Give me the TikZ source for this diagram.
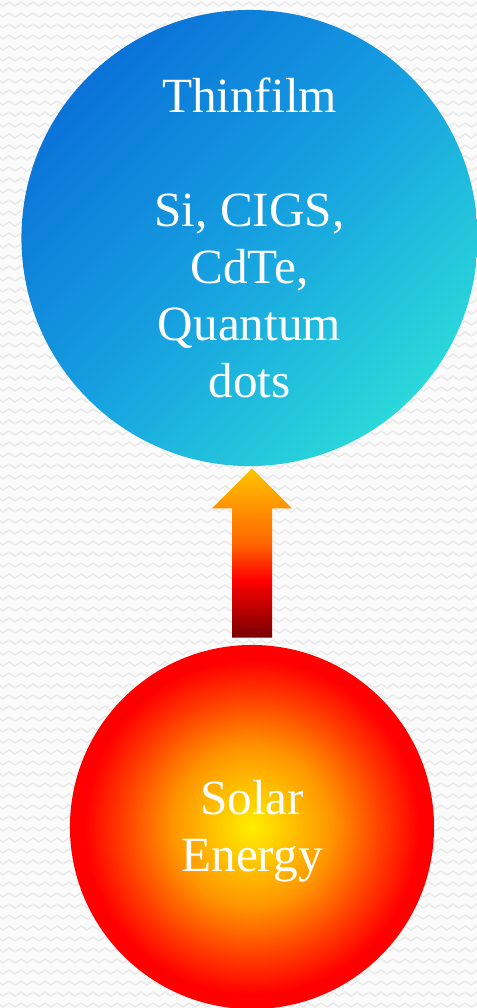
\documentclass[tikz,border=0pt]{standalone}
\usepackage{fontspec}
\setmainfont{Liberation Serif}
\usetikzlibrary{calc,decorations.pathmorphing}
\definecolor{pvblue}{HTML}{0A72D8}
\definecolor{pvmid}{HTML}{16A0E0}
\definecolor{pvcyan}{HTML}{2AD8DA}
\definecolor{pvyellow}{HTML}{FFEE00}
\definecolor{pvorange}{HTML}{FF9400}
\definecolor{pvred}{HTML}{FF0000}
\definecolor{pvdark}{HTML}{780000}
\definecolor{pvamber}{HTML}{FFC400}
\definecolor{pvbg}{HTML}{FBFBFB}
\definecolor{pvzig}{HTML}{EAEAEA}
\pgfdeclareradialshading{sunshade}{\pgfpoint{0bp}{0bp}}{color(0bp)=(pvyellow); color(11bp)=(pvorange); color(18bp)=(pvorange!40!pvred); color(23bp)=(pvred); color(50bp)=(pvred)}
\pgfdeclareverticalshading{arrowshade}{100bp}{color(0bp)=(pvdark); color(25bp)=(pvdark); color(42bp)=(pvred); color(53bp)=(pvorange!70!red); color(75bp)=(pvamber); color(100bp)=(pvamber)}

\begin{document}
\begin{tikzpicture}[x=0.025cm,y=-0.025cm,
  ball/.style={circle,inner sep=0pt,text=white,align=center,
    font=\fontsize{35}{40.5}\selectfont}]
  \useasboundingbox (0,0) rectangle (477,1008);
  % zigzag background
  \fill[pvbg] (0,0) rectangle (477,1008);
  \foreach \r in {0,...,92}{
     \draw[pvzig,line width=1.1pt,decorate,decoration={zigzag,segment length=3mm,amplitude=0.5mm}] (-6,\r*11+4) -- (486,\r*11+4);
  }
  % circles
  \node[ball,minimum size=11.4cm,top color=pvblue,bottom color=pvcyan,middle color=pvmid,shading angle=45] (film) at (249.5,238)
     {Thinfilm\\[40.5pt]Si, CIGS,\\CdTe,\\Quantum\\dots};
  \node[ball,minimum size=9.1cm,shading=sunshade] (solar) at (252,827) {\\[-10pt]Solar\\Energy};
  % block arrow
  \coordinate (tail) at ($(solar.north)+(0,-7)$);
  \coordinate (tip) at ($(tail |- film.south)+(0,2)$);
  \coordinate (neck) at ($(tip)+(0,40)$);
  \shade[shading=arrowshade] ($(tail)+(-20,0)$) -- ($(tail)+(20,0)$) -- ($(neck)+(20,0)$) -- ($(neck)+(40,0)$)
     -- (tip) -- ($(neck)+(-40,0)$) -- ($(neck)+(-20,0)$) -- cycle;
\end{tikzpicture}
\end{document}
